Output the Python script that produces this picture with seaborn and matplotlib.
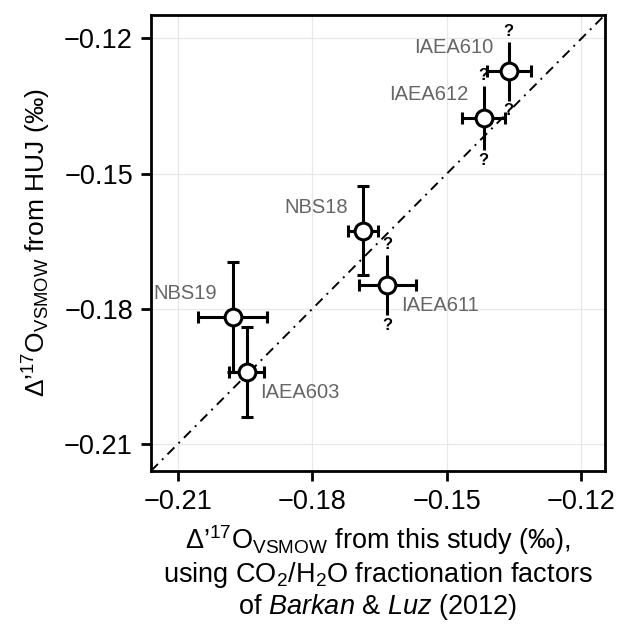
import matplotlib
matplotlib.use("Agg")
import matplotlib.pyplot as plt
import seaborn as sns
import pandas as pd

# ---- data ----
names = ["IAEA610", "IAEA612", "NBS18", "IAEA611", "NBS19", "IAEA603"]
x_study = [-0.1362, -0.1418, -0.1687, -0.1633, -0.1978, -0.1947]
y_huj = [-0.1273, -0.1376, -0.1627, -0.1747, -0.1818, -0.1940]
x_err = [0.0049, 0.0048, 0.0033, 0.0064, 0.0077, 0.0039]
y_err = [0.0065, 0.0071, 0.0099, 0.0067, 0.0122, 0.0100]
y_err_uncertain = [True, True, False, True, False, False]
label_side = ["ul", "ul", "ul", "lr", "ul", "lr"]
ticks = [-0.21, -0.18, -0.15, -0.12]
tick_labels = ["\u22120.21", "\u22120.18", "\u22120.15", "\u22120.12"]

df = pd.DataFrame({"name": names, "x": x_study, "y": y_huj,
                   "xerr": x_err, "yerr": y_err, "unc": y_err_uncertain,
                   "side": label_side})

sns.set_theme(style="whitegrid")
plt.rcParams["font.family"] = ["Liberation Sans", "DejaVu Sans"]
plt.rcParams["mathtext.fontset"] = "custom"
plt.rcParams["mathtext.rm"] = "Liberation Sans"
plt.rcParams["mathtext.it"] = "Liberation Sans:italic"
plt.rcParams["mathtext.bf"] = "Liberation Sans:bold"

fig = plt.figure(figsize=(6.19, 6.27), dpi=100)
ax = fig.add_axes([0.244, 0.249, 0.733, 0.727])

lim = (-0.216, -0.1148)
ax.set_xlim(lim)
ax.set_ylim(lim)

# 1:1 line
ax.axline((-0.2, -0.2), slope=1, color="black", lw=1.4, ls=(0, (5, 3, 1, 3)), zorder=1)

lw = 2.2
# x error bars (capped) for all
ax.errorbar(df["x"], df["y"], xerr=df["xerr"], fmt="none", ecolor="black",
            elinewidth=lw, capsize=4.5, capthick=lw, zorder=2)
# y error bars: capped for certain ones
cert = df[~df["unc"]]
ax.errorbar(cert["x"], cert["y"], yerr=cert["yerr"], fmt="none", ecolor="black",
            elinewidth=lw, capsize=4.5, capthick=lw, zorder=2)
unc = df[df["unc"]]
ax.errorbar(unc["x"], unc["y"], yerr=unc["yerr"], fmt="none", ecolor="black",
            elinewidth=lw, capsize=0, zorder=2)
for _, r in unc.iterrows():
    ax.annotate("?", (r["x"], r["y"] + r["yerr"]), xytext=(0, 2),
                textcoords="offset points", ha="center", va="bottom",
                fontsize=12, fontweight="bold", color="black", zorder=3)
    ax.annotate("?", (r["x"], r["y"] - r["yerr"]), xytext=(0, -2),
                textcoords="offset points", ha="center", va="top",
                fontsize=12, fontweight="bold", color="black", zorder=3)

sns.scatterplot(data=df, x="x", y="y", ax=ax, s=145, color="white",
                edgecolor="black", linewidth=2.2, zorder=4, legend=False)

for _, r in df.iterrows():
    if r["side"] == "ul":
        off, ha, va = (-11, 17), "right", "center"
    else:
        off, ha, va = (10, -15), "left", "center"
    ax.annotate(r["name"], (r["x"], r["y"]), xytext=off, textcoords="offset points",
                ha=ha, va=va, fontsize=14.5, color="#666666", zorder=5)

ax.set_xticks(ticks)
ax.set_xticklabels(tick_labels)
ax.set_yticks(ticks)
ax.set_yticklabels(tick_labels)
ax.tick_params(axis="both", labelsize=19.5, direction="out", length=7, width=2,
               color="black", labelcolor="black", bottom=True, left=True, pad=6)
ax.grid(True, color="#e8e8e8", lw=0.9)
for s in ax.spines.values():
    s.set_color("black")
    s.set_linewidth(2)
ax.set_facecolor("white")

ax.set_xlabel("$\\Delta$\u2019$^\\mathregular{17}$O$_\\mathregular{VSMOW}$ from this study (\u2030),\n"
              "using CO$_\\mathregular{2}$/H$_\\mathregular{2}$O fractionation factors\n"
              "of $\\mathit{Barkan}$ & $\\mathit{Luz}$ (2012)",
              fontsize=19.5, color="black", labelpad=6, linespacing=1.12)
ax.set_ylabel("$\\Delta$\u2019$^\\mathregular{17}$O$_\\mathregular{VSMOW}$ from HUJ (\u2030)",
              fontsize=19, color="black", labelpad=8)

fig.savefig("out.png", dpi=100, facecolor="white")
